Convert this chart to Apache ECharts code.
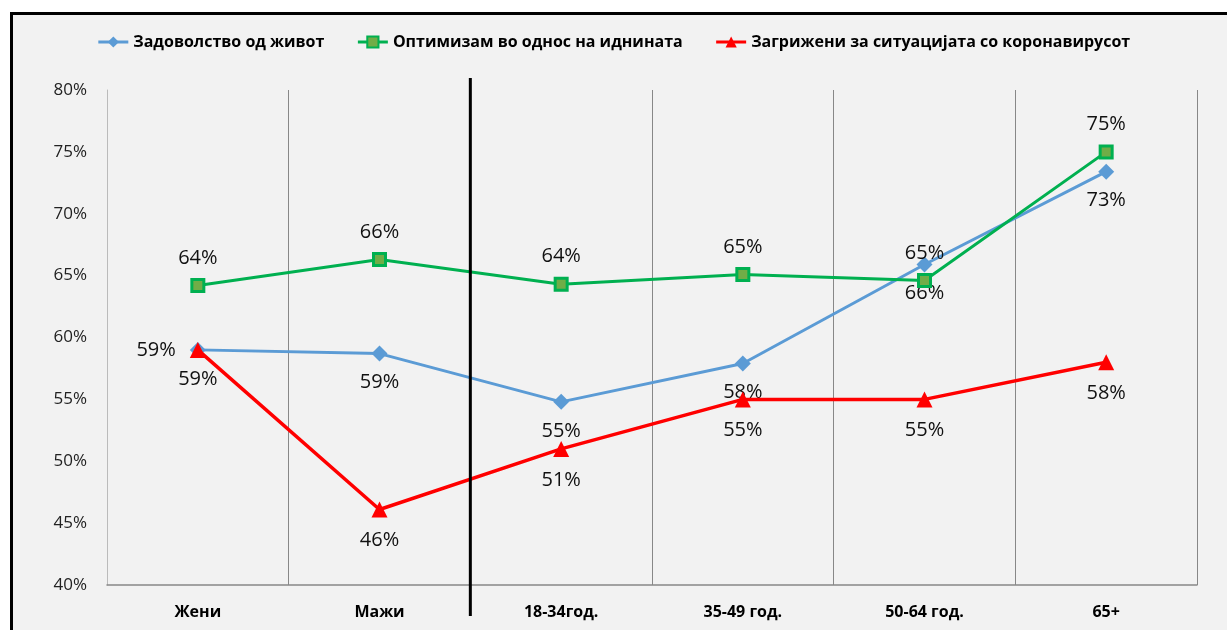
<!DOCTYPE html>
<html>
<head>
<meta charset="utf-8">
<script src="https://cdn.jsdelivr.net/npm/echarts@6/dist/echarts.min.js"></script>
<style>
  html, body { margin: 0; padding: 0; background: #fff; overflow: hidden; }
  #frame { position: absolute; left: 10px; top: 12px; width: 1240px; height: 640px;
           border: 3px solid #000; background: #f2f2f2; box-sizing: border-box; }
  #main { position: absolute; left: 0; top: 0; width: 1227px; height: 630px; }
</style>
</head>
<body>
<div id="frame"></div>
<div id="main"></div>
<script>
// категории и вредности (во %)
var categories = ['Жени', 'Мажи', '18-34год.', '35-49 год.', '50-64 год.', '65+'];
var zadovolstvo = [59.0, 58.7, 54.8, 57.9, 65.9, 73.4];
var optimizam = [64.2, 66.3, 64.3, 65.1, 64.6, 75.0];
var zagrizeni = [59.0, 46.1, 51.0, 55.0, 55.0, 58.0];
var seriesNames = ['Задоволство од живот', 'Оптимизам во однос на иднината', 'Загрижени за ситуацијата со коронавирусот'];

var font = 'Open Sans';
var pct = function (p) { return Math.round(p.value) + '%'; };
var labelStyle = { show: true, formatter: pct, fontSize: 20, color: '#111', fontFamily: font };

var myChart = echarts.init(document.getElementById('main'));
myChart.setOption({
  backgroundColor: 'transparent',
  legend: {
    top: 29,
    left: 'center',
    itemWidth: 30,
    itemHeight: 14,
    itemGap: 32,
    lineStyle: { width: 3 },
    textStyle: { fontSize: 16, fontWeight: 'bold', color: '#000', fontFamily: font },
    data: seriesNames
  },
  grid: { left: 107, right: 30, top: 90, bottom: 45 },
  xAxis: {
    type: 'category',
    data: categories,
    boundaryGap: true,
    axisLine: { lineStyle: { color: '#888', width: 1.5 } },
    axisTick: { show: false },
    splitLine: { show: true, lineStyle: { color: '#888', width: 1 } },
    axisLabel: { margin: 19, fontSize: 16, fontWeight: 'bold', color: '#000', fontFamily: font }
  },
  yAxis: {
    type: 'value',
    min: 40,
    max: 80,
    interval: 5,
    axisLine: { show: true, lineStyle: { color: '#bbb' } },
    axisTick: { show: false },
    splitLine: { show: false },
    axisLabel: { formatter: '{value}%', margin: 20, fontSize: 17, color: '#222', fontFamily: font }
  },
  series: [
    {
      name: seriesNames[0],
      type: 'line',
      data: zadovolstvo,
      symbol: 'diamond',
      symbolSize: 16,
      itemStyle: { color: '#5b9bd5' },
      lineStyle: { width: 3, color: '#5b9bd5' },
      label: Object.assign({ position: 'bottom', distance: 11 }, labelStyle),
      z: 3
    },
    {
      name: seriesNames[1],
      type: 'line',
      data: optimizam,
      symbol: 'rect',
      symbolSize: 12,
      itemStyle: { color: '#70ad47', borderColor: '#00b050', borderWidth: 3 },
      lineStyle: { width: 3, color: '#00b050' },
      label: Object.assign({ position: 'top', distance: 10 }, labelStyle),
      z: 4
    },
    {
      name: seriesNames[2],
      type: 'line',
      data: zagrizeni.map(function (v, i) {
        return i === 0 ? { value: v, label: { position: 'left', distance: 14 } } : v;
      }),
      symbol: 'triangle',
      symbolSize: 16,
      itemStyle: { color: '#ff0000' },
      lineStyle: { width: 3.5, color: '#ff0000' },
      label: Object.assign({ position: 'bottom', distance: 13 }, labelStyle),
      z: 5
    }
  ]
});

// дебела вертикална линија меѓу пол и возрасни групи
var xa = myChart.convertToPixel({ xAxisIndex: 0 }, 1);
var xb = myChart.convertToPixel({ xAxisIndex: 0 }, 2);
var sepX = (xa + xb) / 2;
myChart.setOption({
  graphic: [{
    type: 'line',
    shape: { x1: sepX, y1: 78, x2: sepX, y2: 616 },
    style: { stroke: '#000', lineWidth: 3 },
    z: 10
  }]
});
</script>
</body>
</html>
